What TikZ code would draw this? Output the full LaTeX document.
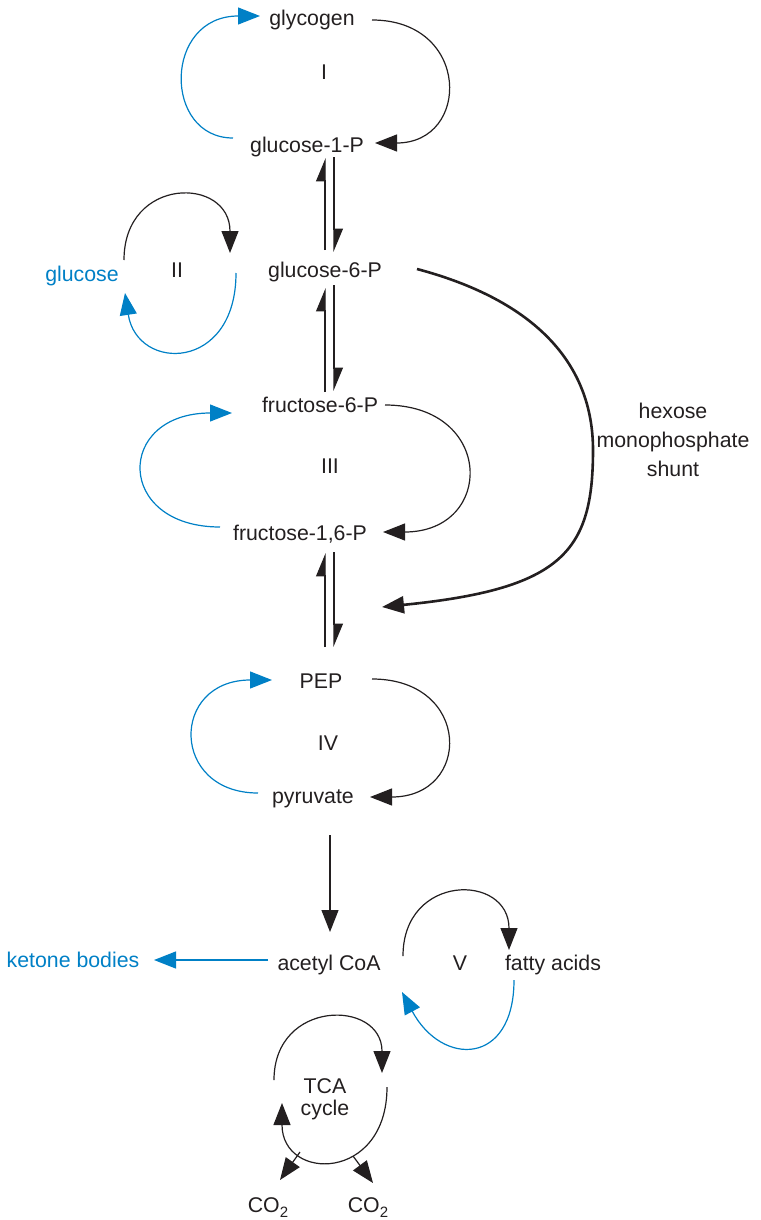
\documentclass[tikz,border=0pt]{standalone}
\usepackage{fontspec}
\setmainfont{Liberation Sans}
\usetikzlibrary{arrows.meta}
\definecolor{ink}{RGB}{35,31,32}
\definecolor{blu}{RGB}{0,128,198}
\tikzset{
  lbl/.style={inner sep=0pt, anchor=base, text=ink, font=\fontsize{21.3}{29}\selectfont},
  bluelbl/.style={lbl, text=blu},
  conn/.style={draw=ink, line width=1.2pt, -{Triangle[length=22pt,width=17pt]}},
  bconn/.style={draw=blu, line width=1.2pt, -{Triangle[length=22pt,width=17pt]}},
  harp/.style={draw=ink, line width=1.2pt, -{Triangle[length=22pt,width=18pt,left]}},
  shunt/.style={draw=ink, line width=2.6pt, -{Triangle[length=22pt,width=17pt]}},
}
\begin{document}
\begin{tikzpicture}[x=1pt,y=-1pt]
\useasboundingbox (0,0) rectangle (760,1220);
% nodes
\node[lbl] (gly) at (312,26) {glycogen};
\node[lbl] (I) at (324,80) {I};
\node[lbl] (g1p) at (307,152) {glucose-1-P};
\node[lbl] (g6p) at (325,277) {glucose-6-P};
\node[bluelbl] (glc) at (82,281) {glucose};
\node[lbl] (II) at (177,277) {II};
\node[lbl] (f6p) at (320,412) {fructose-6-P};
\node[lbl] (III) at (330,473) {III};
\node[lbl] (f16p) at (300,540) {fructose-1,6-P};
\node[lbl] (pep) at (321,688) {PEP};
\node[lbl] (IV) at (328,750) {IV};
\node[lbl] (pyr) at (313,803) {pyruvate};
\node[bluelbl] (ket) at (73,967) {ketone bodies};
\node[lbl] (acoa) at (329,970) {acetyl CoA};
\node[lbl] (V) at (460,970) {V};
\node[lbl] (fa) at (553,970) {fatty acids};
\node[lbl, anchor=center, align=center] (tca) at (325,1099) {TCA\\[-7pt]cycle};
\node[lbl] (co2a) at (268,1212) {CO\raisebox{-5pt}{\fontsize{15}{15}\selectfont 2}};
\node[lbl] (co2b) at (368,1212) {CO\raisebox{-5pt}{\fontsize{15}{15}\selectfont 2}};
\node[lbl, anchor=center, align=center] (hmp) at (673,440) {hexose\\monophosphate\\shunt};
\coordinate (shuntend) at (382,607);
\coordinate (shuntmid) at (593,450);

% loop I
\path[bconn] ([shift={(-74,-14)}]g1p.base) .. controls (163,138) and (163,16) .. ([shift={(-52,-10)}]gly.base);
\path[conn] ([shift={(60,-6)}]gly.base) .. controls (471,20) and (471,143) .. ([shift={(68,-9)}]g1p.base);
% g1p <-> g6p
\path[harp] ([shift={(0,-27)}]g6p.base) -- ([shift={(18,6)}]g1p.base);
\path[harp] ([shift={(27,5)}]g1p.base) -- ([shift={(9,-25)}]g6p.base);
% loop II
\path[conn] ([shift={(42,-21)}]glc.base) .. controls (124,176) and (230,176) .. ([shift={(-95,-24)}]g6p.base);
\path[bconn] ([shift={(-89,-4)}]g6p.base) .. controls (236,372) and (137,372) .. ([shift={(43,12)}]glc.base);
% g6p <-> f6p
\path[harp] ([shift={(5,-20)}]f6p.base) -- ([shift={(0,11)}]g6p.base);
\path[harp] ([shift={(9,8)}]g6p.base) -- ([shift={(14,-21)}]f6p.base);
% loop III
\path[bconn] ([shift={(-80,-13)}]f16p.base) .. controls (115,527) and (115,413) .. ([shift={(-88,1)}]f6p.base);
\path[conn] ([shift={(65,-7)}]f6p.base) .. controls (495,405) and (495,532) .. ([shift={(83,-8)}]f16p.base);
% f16p <-> pep
\path[harp] ([shift={(4,-41)}]pep.base) -- ([shift={(25,13)}]f16p.base);
\path[harp] ([shift={(34,12)}]f16p.base) -- ([shift={(13,-41)}]pep.base);
% shunt
\path[shunt] ([shift={(92,-8)}]g6p.base) .. controls (537,301) and (593,365) .. (shuntmid)
  .. controls (593,552) and (562,589) .. (shuntend);
% loop IV
\path[bconn] ([shift={(-55,-10)}]pyr.base) .. controls (170,793) and (170,680) .. ([shift={(-49,-8)}]pep.base);
\path[conn] ([shift={(51,-9)}]pep.base) .. controls (472,679) and (472,797) .. ([shift={(57,-6)}]pyr.base);
% pyruvate -> acetyl CoA
\path[conn] ([shift={(17,32)}]pyr.base) -- ([shift={(1,-38)}]acoa.base);
% acetyl CoA -> ketone bodies
\path[bconn] ([shift={(-61,-10)}]acoa.base) -- ([shift={(81,-7)}]ket.base);
% loop V
\path[conn] ([shift={(74,-14)}]acoa.base) .. controls (403,873) and (509,873) .. ([shift={(-44,-20)}]fa.base);
\path[bconn] ([shift={(-39,10)}]fa.base) .. controls (514,1066) and (442,1067) .. ([shift={(73,22)}]acoa.base);
% TCA cycle
\path[conn] ([shift={(-51,-19)}]tca.center) .. controls (274,999) and (382,999) .. ([shift={(57,-26)}]tca.center);
\path[conn] ([shift={(62,-12)}]tca.center) .. controls (387,1182) and (282,1182) .. ([shift={(-43,4)}]tca.center);
\path[conn] ([shift={(-25,53)}]tca.center) -- ([shift={(12,-32)}]co2a.base);
\path[conn] ([shift={(28,57)}]tca.center) -- ([shift={(5,-29)}]co2b.base);
\end{tikzpicture}
\end{document}
